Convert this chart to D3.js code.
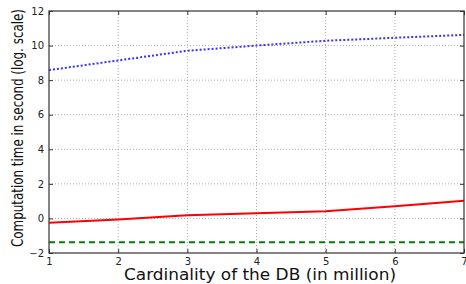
<!DOCTYPE html>
<html>
<head>
<meta charset="utf-8">
<script src="https://cdn.jsdelivr.net/npm/d3@7"></script>
<style>
  body { margin: 0; background: #fff; }
  svg { display: block; font-family: "DejaVu Sans", sans-serif; }
</style>
</head>
<body>
<svg id="chart" width="466" height="284"></svg>
<script>
var cardinality = [1, 2, 3, 4, 5, 6, 7];
var blueDotted = [8.58, 9.14, 9.7, 10.0, 10.28, 10.45, 10.62];
var redSolid = [-0.25, -0.06, 0.18, 0.3, 0.41, 0.71, 1.02];
var greenDashed = [-1.38, -1.38, -1.38, -1.38, -1.38, -1.38, -1.38];
var xTicks = [1, 2, 3, 4, 5, 6, 7];
var yTicks = [-2, 0, 2, 4, 6, 8, 10, 12];

var svg = d3.select('#chart');
// plot box (don't call it "top", that's window.top)
var pL = 49, pR = 464, pT = 11, pB = 253;

var x = d3.scaleLinear().domain([1, 7]).range([pL, pR]);
var y = d3.scaleLinear().domain([-2, 12]).range([pB, pT]);

// grid
var grid = svg.append('g').attr('class', 'grid');
grid.selectAll('.gx').data(xTicks.slice(1, -1)).enter().append('line')
  .attr('x1', function(d) { return x(d); }).attr('x2', function(d) { return x(d); })
  .attr('y1', pT).attr('y2', pB);
grid.selectAll('.gy').data(yTicks.slice(1, -1)).enter().append('line')
  .attr('x1', pL).attr('x2', pR)
  .attr('y1', function(d) { return y(d); }).attr('y2', function(d) { return y(d); });
grid.selectAll('line')
  .attr('stroke', '#999').attr('stroke-width', 0.8).attr('stroke-dasharray', '1,2');

// lines
var line = d3.line()
  .x(function(d, i) { return x(cardinality[i]); })
  .y(function(d) { return y(d); });

svg.append('path').datum(blueDotted).attr('d', line)
  .attr('fill', 'none').attr('stroke', '#3333ff').attr('stroke-width', 2)
  .attr('stroke-dasharray', '2,2');
svg.append('path').datum(redSolid).attr('d', line)
  .attr('fill', 'none').attr('stroke', '#ff0000').attr('stroke-width', 2);
svg.append('path').datum(greenDashed).attr('d', line)
  .attr('fill', 'none').attr('stroke', '#008000').attr('stroke-width', 2)
  .attr('stroke-dasharray', '6,4');

// axes (ticks inside, mirrored)
var axB = svg.append('g').attr('transform', 'translate(0,' + pB + ')')
  .call(d3.axisBottom(x).tickValues(xTicks).tickSize(-4).tickPadding(5).tickFormat(d3.format('d')));
var axT = svg.append('g').attr('transform', 'translate(0,' + pT + ')')
  .call(d3.axisTop(x).tickValues(xTicks).tickSize(-4).tickFormat(''));
var axL = svg.append('g').attr('transform', 'translate(' + pL + ',0)')
  .call(d3.axisLeft(y).tickValues(yTicks).tickSize(-4).tickPadding(5).tickFormat(d3.format('d')));
var axR = svg.append('g').attr('transform', 'translate(' + pR + ',0)')
  .call(d3.axisRight(y).tickValues(yTicks).tickSize(-4).tickFormat(''));

[axB, axT, axL, axR].forEach(function(a) {
  a.select('.domain').remove();
  a.selectAll('line').attr('stroke', '#333');
  a.selectAll('text').attr('fill', '#222').style('font-size', '10px')
    .style('font-family', '"DejaVu Sans", sans-serif');
});

// frame
svg.append('rect').attr('x', pL).attr('y', pT)
  .attr('width', pR - pL).attr('height', pB - pT)
  .attr('fill', 'none').attr('stroke', '#333').attr('stroke-width', 1.2);

// axis labels
svg.append('text').attr('x', 260).attr('y', 280).attr('text-anchor', 'middle')
  .attr('textLength', 272).attr('lengthAdjust', 'spacingAndGlyphs')
  .style('font-size', '15px').attr('fill', '#111')
  .text('Cardinality of the DB (in million)');

svg.append('text').attr('transform', 'translate(23,128) rotate(-90)')
  .attr('text-anchor', 'middle')
  .attr('textLength', 238).attr('lengthAdjust', 'spacingAndGlyphs')
  .style('font-size', '15px').attr('fill', '#111')
  .text('Computation time in second (log. scale)');
</script>
</body>
</html>
